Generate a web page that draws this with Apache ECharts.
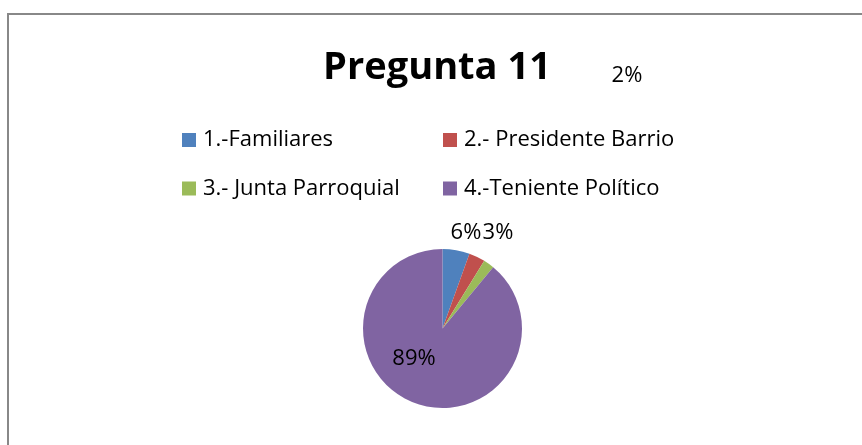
<!DOCTYPE html>
<html>
<head>
<meta charset="utf-8">
<script src="https://cdn.jsdelivr.net/npm/echarts@6/dist/echarts.min.js"></script>
<style>
html,body{margin:0;padding:0;background:#fff;}
#c{width:862px;height:445px;}
</style>
</head>
<body>
<div id="c"></div>
<script>
const titleText = 'Pregunta 11';
const categories = ['1.-Familiares', '2.- Presidente Barrio', '3.- Junta Parroquial', '4.-Teniente Político'];
const values = [5.5, 3.3, 2.2, 89];
const colors = ['#4F81BD', '#C0504D', '#9BBB59', '#8064A2'];

const FONT = '"Open Sans", sans-serif';
const labelPos = [[466, 233], [498, 233], [627, 76], [414, 359]];

const chart = echarts.init(document.getElementById('c'), null, {renderer: 'canvas'});
chart.setOption({
  animation: false,
  backgroundColor: '#fff',
  color: colors,
  title: {
    text: titleText,
    left: 432, top: 44, textAlign: 'center',
    textStyle: {fontFamily: FONT, fontWeight: 'bold', fontSize: 38, color: '#000'}
  },
  legend: [
    {
      data: [categories[0], categories[2]],
      orient: 'vertical', left: 182, top: 129, padding: 0,
      itemWidth: 14, itemHeight: 14, itemGap: 26.5, icon: 'rect',
      textStyle: {fontFamily: FONT, fontSize: 22, color: '#000', lineHeight: 21, padding: [0, 0, 0, 2]}
    },
    {
      data: [categories[1], categories[3]],
      orient: 'vertical', left: 443, top: 129, padding: 0,
      itemWidth: 14, itemHeight: 14, itemGap: 26.5, icon: 'rect',
      textStyle: {fontFamily: FONT, fontSize: 22, color: '#000', lineHeight: 21, padding: [0, 0, 0, 2]}
    }
  ],
  graphic: [{
    type: 'rect', silent: true, z: -1,
    shape: {x: 8, y: 14, width: 1000, height: 1000},
    style: {fill: 'none', stroke: '#888', lineWidth: 2}
  }],
  series: [{
    type: 'pie',
    center: [442.5, 328.5],
    radius: 79.5,
    startAngle: 90,
    clockwise: true,
    avoidLabelOverlap: false,
    data: categories.map((n, i) => ({name: n, value: values[i]})),
    itemStyle: {borderWidth: 0},
    label: {
      show: true, position: 'outside',
      formatter: '{d}%',
      fontFamily: FONT, fontSize: 22, color: '#000'
    },
    percentPrecision: 0,
    labelLine: {show: false},
    labelLayout: function (p) {
      const q = labelPos[p.dataIndex];
      return {x: q[0], y: q[1], align: 'center', verticalAlign: 'middle'};
    },
    emphasis: {disabled: true}
  }]
});
</script>
</body>
</html>
